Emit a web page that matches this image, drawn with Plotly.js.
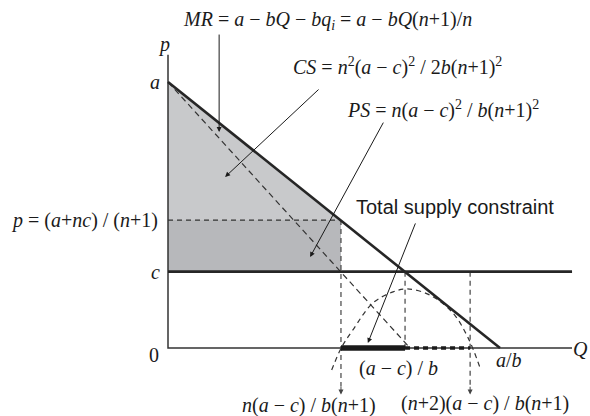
<!DOCTYPE html>
<html>
<head>
<meta charset="utf-8">
<script src="https://cdn.plot.ly/plotly-3.0.1.min.js"></script>
<style>html,body{margin:0;padding:0;background:#fff;}#chart{width:590px;height:416px;}</style>
</head>
<body>
<div id="chart"></div>
<script>
// ---- data (a = 10, a/b = 10 in chart units) ----
const priceA = 10;          // intercept a
const priceP = 4.81;        // p = (a+nc)/(n+1)
const priceC = 2.87;        // marginal cost c
const qOligopoly = 5.21;    // n(a-c)/b(n+1)
const qCompetitive = 7.14;  // (a-c)/b
const qUpper = 9.10;        // (n+2)(a-c)/b(n+1)
const qMax = 10;            // a/b
const qMR = 7.29;           // MR intercept on Q axis
const axisQEnd = 12.17;
const axisPEnd = 11.02;
const labelDrop = -1.75;    // depth of the dashed down-arrows

const demandQ = [0, qMax];
const demandP = [priceA, 0];
const mrQ = [0, qMR];
const mrP = [priceA, 0];
const curveQ = [4.93, 5.23, 5.57, 6.17, 6.78, 7.20, 7.89, 8.58, 9.04, 9.40];
const curveP = [-0.83, 0.03, 0.68, 1.69, 2.11, 2.22, 1.99, 1.32, 0.38, -0.75];

// arrows: tail -> head (chart units)
const arrowTailQ = [1.54, 4.58, 6.51, 7.47];
const arrowTailP = [11.84, 9.77, 8.53, 4.74];
const arrowHeadQ = [1.54, 1.72, 4.28, 6.02];
const arrowHeadP = [8.12, 6.43, 3.42, 0.19];

// ---- styling ----
const W = 590, H = 416;
const X0 = 168, Y0 = 348, SX = 33.2, SY = 26.6;   // pixel layout of the frame
const serif = "Liberation Serif, Times New Roman, serif";
const sans = "Liberation Sans, Arial, sans-serif";
const dark = '#262626';
const dash = '5px,4px';
const FS = 20;

function line(x, y, width, color, d) {
  return {x: x, y: y, mode: 'lines', type: 'scatter', hoverinfo: 'skip',
          line: {width: width, color: color, dash: d || 'solid'}};
}

const traces = [
  // CS triangle
  {x: [0, qOligopoly, 0, 0], y: [priceA, priceP, priceP, priceA], type: 'scatter', mode: 'lines',
   fill: 'toself', fillcolor: '#c8c9cb', line: {width: 0}, hoverinfo: 'skip'},
  // PS rectangle
  {x: [0, qOligopoly, qOligopoly, 0, 0], y: [priceP, priceP, priceC, priceC, priceP], type: 'scatter', mode: 'lines',
   fill: 'toself', fillcolor: '#b7b8bb', line: {width: 0}, hoverinfo: 'skip'},
  // dashed guides
  line([0, qOligopoly], [priceP, priceP], 1.2, '#333', dash),
  line([qOligopoly, qOligopoly], [priceP, labelDrop + 0.3], 1.2, '#444', dash),
  line([qCompetitive, qCompetitive], [priceC, 0], 1.2, '#444', dash),
  line([qUpper, qUpper], [priceC, labelDrop + 0.3], 1.2, '#444', dash),
  line(mrQ, mrP, 1.2, '#333', '6px,4px'),
  Object.assign(line(curveQ, curveP, 1.2, '#333', dash), {line: {width: 1.2, color: '#333', dash: dash, shape: 'spline', smoothing: 1}}),
  // axes
  line([0, 0, axisQEnd], [axisPEnd, 0, 0], 1.5, '#333'),
  // c line and demand
  line([0, axisQEnd], [priceC, priceC], 2.6, dark),
  line(demandQ, demandP, 2.6, dark),
  // total supply constraint bar
  line([qOligopoly, qCompetitive], [0, 0], 5.5, '#1a1a1a'),
  line([qCompetitive, qUpper], [0, 0], 3.5, '#1a1a1a', '5px,4px')
];

const annotations = [];
for (let i = 0; i < arrowTailQ.length; i++) {
  annotations.push({x: arrowHeadQ[i], y: arrowHeadP[i], ax: arrowTailQ[i], ay: arrowTailP[i],
    xref: 'x', yref: 'y', axref: 'x', ayref: 'y', text: '', showarrow: true,
    arrowhead: 2, arrowsize: 1, arrowwidth: 1, arrowcolor: '#1a1a1a'});
}
// short arrowheads at the bottom of the dashed verticals
[qOligopoly, qUpper].forEach(function (q) {
  annotations.push({x: q, y: labelDrop, ax: q, ay: labelDrop + 0.35, xref: 'x', yref: 'y', axref: 'x', ayref: 'y',
    text: '', showarrow: true, arrowhead: 2, arrowsize: 1, arrowwidth: 1, arrowcolor: '#444'});
});

function px(xp) { return xp / W; }
function py(yp) { return 1 - yp / H; }
function txt(text, x, y, opts) {
  return Object.assign({text: text, x: x, y: y, showarrow: false, borderpad: 0,
    font: {family: serif, size: FS, color: '#1a1a1a'}}, opts);
}

// free labels (paper coordinates)
annotations.push(txt('<i>MR</i> = <i>a</i> − <i>bQ</i> − <i>bq<sub>i</sub></i> = <i>a</i> − <i>bQ</i>(<i>n</i>+1)/<i>n</i>',
  px(182), py(20), {xref: 'paper', yref: 'paper', xanchor: 'left', yanchor: 'middle'}));
annotations.push(txt('<i>CS</i> = <i>n</i><sup>2</sup>(<i>a</i> − <i>c</i>)<sup>2</sup> / 2<i>b</i>(<i>n</i>+1)<sup>2</sup>',
  px(292), py(66), {xref: 'paper', yref: 'paper', xanchor: 'left', yanchor: 'middle'}));
annotations.push(txt('<i>PS</i> = <i>n</i>(<i>a</i> − <i>c</i>)<sup>2</sup> / <i>b</i>(<i>n</i>+1)<sup>2</sup>',
  px(346), py(110), {xref: 'paper', yref: 'paper', xanchor: 'left', yanchor: 'middle'}));
annotations.push(txt('Total supply constraint', px(355), py(207),
  {xref: 'paper', yref: 'paper', xanchor: 'left', yanchor: 'middle', font: {family: sans, size: 20, color: '#1a1a1a'}}));

// axis-tied labels (data coordinates)
annotations.push(txt('<i>p</i>', 0, axisPEnd, {xref: 'x', yref: 'y', xanchor: 'center', yanchor: 'bottom', xshift: -4, yshift: -2}));
annotations.push(txt('<i>a</i>', 0, priceA, {xref: 'x', yref: 'y', xanchor: 'right', yanchor: 'middle', xshift: -7}));
annotations.push(txt('<i>p</i> = (<i>a</i>+<i>nc</i>) / (<i>n</i>+1)', 0, priceP, {xref: 'x', yref: 'y', xanchor: 'right', yanchor: 'middle', xshift: -9}));
annotations.push(txt('<i>c</i>', 0, priceC, {xref: 'x', yref: 'y', xanchor: 'right', yanchor: 'middle', xshift: -7}));
annotations.push(txt('0', 0, 0, {xref: 'x', yref: 'y', xanchor: 'right', yanchor: 'middle', xshift: -8, yshift: -7}));
annotations.push(txt('<i>Q</i>', px(589), 0, {xref: 'paper', yref: 'y', xanchor: 'right', yanchor: 'middle', yshift: -1}));
annotations.push(txt('(<i>a</i> − <i>c</i>) / <i>b</i>', qCompetitive, 0, {xref: 'x', yref: 'y', xanchor: 'center', yanchor: 'middle', xshift: -7, yshift: -20}));
annotations.push(txt('<i>a</i>/<i>b</i>', qMax, 0, {xref: 'x', yref: 'y', xanchor: 'left', yanchor: 'middle', xshift: -5, yshift: -12}));
annotations.push(txt('<i>n</i>(<i>a</i> − <i>c</i>) / <i>b</i>(<i>n</i>+1)', qOligopoly, labelDrop, {xref: 'x', yref: 'y', xanchor: 'center', yanchor: 'middle', xshift: -32, yshift: -11}));
annotations.push(txt('(<i>n</i>+2)(<i>a</i> − <i>c</i>) / <i>b</i>(<i>n</i>+1)', qUpper, labelDrop, {xref: 'x', yref: 'y', xanchor: 'center', yanchor: 'middle', xshift: 15, yshift: -9}));

const layout = {
  width: W, height: H,
  margin: {l: 0, r: 0, t: 0, b: 0},
  paper_bgcolor: '#fff', plot_bgcolor: '#fff',
  showlegend: false,
  xaxis: {range: [-X0 / SX, (W - X0) / SX], visible: false, fixedrange: true},
  yaxis: {range: [-(H - Y0) / SY, Y0 / SY], visible: false, fixedrange: true},
  annotations: annotations
};

Plotly.newPlot('chart', traces, layout, {staticPlot: true, displayModeBar: false});
</script>
</body>
</html>
